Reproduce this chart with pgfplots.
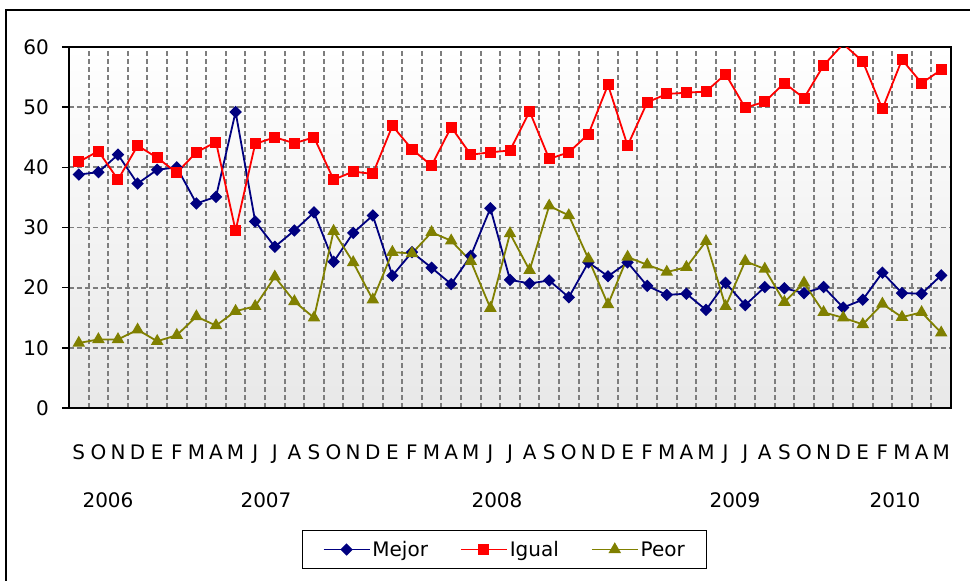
\documentclass[border=0pt]{standalone}
\usepackage{pgfplots}
\usepackage{pgfplotstable}
\pgfplotsset{compat=1.18}
\usepackage{fontspec}
\setmainfont{DejaVu Sans}
\definecolor{cMejor}{RGB}{0,0,128}
\definecolor{cIgual}{RGB}{255,0,0}
\definecolor{cPeor}{RGB}{128,128,0}
\definecolor{gridc}{RGB}{125,125,125}
\pgfplotstableread{
x mejor igual peor
0 38.8 40.9 10.8
1 39.2 42.7 11.4
2 42.1 37.95 11.4
3 37.3 43.6 13.0
4 39.6 41.6 11.1
5 40.0 39.1 12.1
6 34.0 42.5 15.2
7 35.1 44.2 13.7
8 49.2 29.5 16.1
9 31.0 43.9 16.9
10 26.8 45.0 21.8
11 29.5 44.0 17.7
12 32.5 45.0 15.0
13 24.3 37.95 29.4
14 29.1 39.3 24.2
15 32.0 38.9 18.0
16 22.0 46.9 25.9
17 25.9 43.0 25.7
18 23.3 40.3 29.2
19 20.6 46.7 27.8
20 25.3 42.1 24.4
21 33.2 42.5 16.6
22 21.3 42.8 29.0
23 20.7 49.3 22.9
24 21.2 41.4 33.6
25 18.4 42.5 32.0
26 24.2 45.5 24.8
27 21.9 53.7 17.2
28 24.2 43.6 25.1
29 20.3 50.8 23.8
30 18.8 52.2 22.6
31 19.0 52.4 23.4
32 16.3 52.6 27.7
33 20.8 55.5 16.9
34 17.1 49.9 24.4
35 20.1 50.9 23.1
36 19.9 54.0 17.6
37 19.1 51.5 20.8
38 20.1 56.95 15.9
39 16.7 60.5 15.0
40 18.0 57.6 13.9
41 22.5 49.7 17.3
42 19.1 57.9 15.1
43 19.0 54.0 15.9
44 22.05 56.2 12.5
}\datatable
\begin{document}
\begin{tikzpicture}[x=1pt,y=1pt]
\begin{axis}[
  at={(0pt,0pt)}, anchor=south west, scale only axis,
  width=882pt, height=361pt,
  xmin=-0.5, xmax=44.5, ymin=0, ymax=60,
  axis background/.style={top color=white, bottom color=black!9},
  font=\fontsize{20}{24}\selectfont,
  /pgf/number format/assume math mode=true,
  ytick={0,10,...,60},
  ytick pos=left,
  xtick={0,...,44},
  xticklabels={S,O,N,D,E,F,M,A,M,J,J,A,S,O,N,D,E,F,M,A,M,J,J,A,S,O,N,D,E,F,M,A,M,J,J,A,S,O,N,D,E,F,M,A,M},
  minor xtick={0.5,1.5,...,43.5},
  ymajorgrids, xminorgrids,
  major grid style={gridc, line width=1.9pt, dash pattern=on 5pt off 3pt},
  minor grid style={gridc, line width=1.9pt, dash pattern=on 5pt off 3pt},
  x tick style={draw=none},
  y tick style={black, line width=1.5pt},
  tick align=outside, major tick length=7pt, minor tick length=0pt,
  axis line style={black, line width=1.6pt},
  xticklabel style={anchor=base, inner sep=0pt, yshift=-44pt},
  yticklabel style={anchor=east, inner sep=0pt, xshift=-13pt},
  legend style={at={(0.494,-0.392)}, anchor=center, legend columns=3,
    draw=black, fill=white, line width=1pt, inner xsep=20pt, inner ysep=9pt,
    font=\fontsize{20}{24}\selectfont,
    /tikz/every even column/.append style={column sep=30pt}},
  legend image code/.code={\draw[mark repeat=2, mark phase=2] plot coordinates {(0pt,0pt) (23pt,0pt) (46pt,0pt)};},
]
\addplot[cMejor, line width=1.8pt, mark=square*, mark size=3.5pt, mark options={rotate=45, solid, fill=cMejor}] table[x=x, y=mejor] {\datatable};
\addlegendentry{Mejor}
\addplot[cIgual, line width=1.8pt, mark=square*, mark size=4.6pt, mark options={solid, fill=cIgual}] table[x=x, y=igual] {\datatable};
\addlegendentry{Igual}
\addplot[cPeor, line width=1.8pt, mark=triangle*, mark size=5.5pt, mark options={solid, fill=cPeor}] table[x=x, y=peor] {\datatable};
\addlegendentry{Peor}
\end{axis}
\begin{scope}[font=\fontsize{20}{24}\selectfont]
\node at (39,-92) {2006};
\node at (197,-92) {2007};
\node at (428,-92) {2008};
\node at (666,-92) {2009};
\node at (826,-92) {2010};
\end{scope}
\draw[black, line width=1.5pt] (-63,398) rectangle (912,-185);
\pgfresetboundingbox
\path[use as bounding box] (-69,-173) rectangle (901,408);
\end{tikzpicture}
\end{document}
